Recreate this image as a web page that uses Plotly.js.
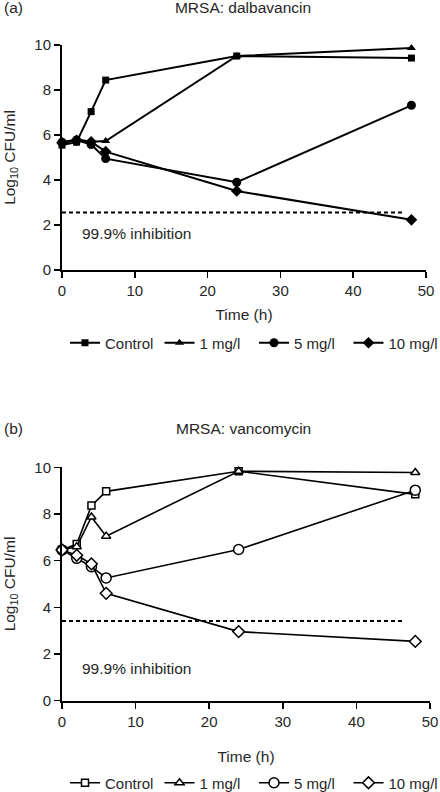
<!DOCTYPE html>
<html>
<head>
<meta charset="utf-8">
<script src="https://cdn.plot.ly/plotly-3.0.1.min.js"></script>
<style>
  html, body { margin: 0; padding: 0; background: #fff; }
  #chart { width: 440px; height: 792px; }
</style>
</head>
<body>
<div id="chart"></div>
<script>
// ---- data ----
const timeH = [0, 2, 4, 6, 24, 48];
const seriesNames = ["Control", "1 mg/l", "5 mg/l", "10 mg/l"];

// (a) MRSA: dalbavancin  (log10 CFU/ml)
const dalbaControl = [5.55, 5.68, 7.04, 8.44, 9.51, 9.42];
const dalba1 = [5.67, 5.81, 5.70, 5.73, 9.51, 9.87];
const dalba5 = [5.68, 5.78, 5.58, 4.95, 3.90, 7.32];
const dalba10 = [5.65, 5.76, 5.70, 5.26, 3.51, 2.23];

// (b) MRSA: vancomycin
const vancoControl = [6.46, 6.71, 8.36, 8.97, 9.83, 8.84];
const vanco1 = [6.46, 6.60, 7.87, 7.05, 9.83, 9.78];
const vanco5 = [6.46, 6.10, 5.74, 5.26, 6.48, 9.02];
const vanco10 = [6.46, 6.23, 5.86, 4.60, 2.96, 2.54];

// 99.9% inhibition reference lines
const dalbaThreshold = [2.56, 2.56];
const dalbaThresholdX = [0, 47];
const vancoThreshold = [3.42, 3.42];
const vancoThresholdX = [0, 46.3];

const xTicks = [0, 10, 20, 30, 40, 50];
const yTicks = [0, 2, 4, 6, 8, 10];

// ---- styles ----
const TXT = "#262626";
const FONT = "Liberation Sans, Arial, Helvetica, sans-serif";
const symbols = ["square", "triangle-up", "circle", "diamond"];
const topSizes = [7, 8, 9, 9];
const botSizes = [7, 8, 10, 9];

const topData = [dalbaControl, dalba1, dalba5, dalba10];
const botData = [vancoControl, vanco1, vanco5, vanco10];

const traces = [];
topData.forEach((ys, i) => {
  traces.push({
    x: timeH, y: ys, name: seriesNames[i], type: "scatter", mode: "lines+markers",
    xaxis: "x", yaxis: "y", legend: "legend", cliponaxis: false,
    line: {color: "#000", width: 2},
    marker: {symbol: symbols[i], size: topSizes[i], color: "#000", line: {color: "#000", width: 0}}
  });
});
traces.push({
  x: dalbaThresholdX, y: dalbaThreshold, type: "scatter", mode: "lines", showlegend: false,
  xaxis: "x", yaxis: "y", hoverinfo: "skip",
  line: {color: "#000", width: 2, dash: "4px,3px"}
});
botData.forEach((ys, i) => {
  traces.push({
    x: timeH, y: ys, name: seriesNames[i], type: "scatter", mode: "lines+markers",
    xaxis: "x2", yaxis: "y2", legend: "legend2", cliponaxis: false,
    line: {color: "#000", width: 1.6},
    marker: {symbol: symbols[i], size: botSizes[i], color: "#fff", line: {color: "#000", width: 1.5}}
  });
});
traces.push({
  x: vancoThresholdX, y: vancoThreshold, type: "scatter", mode: "lines", showlegend: false,
  xaxis: "x2", yaxis: "y2", hoverinfo: "skip",
  line: {color: "#000", width: 2, dash: "4px,3px"}
});

const H = 792, W = 440;
const py = p => 1 - p / H;
const px = p => p / W;

function xAxis(domain, anchor, standoff) {
  return {
    domain: domain, anchor: anchor, range: [0, 50], tickvals: xTicks, ticktext: xTicks.map(String),
    showline: true, linecolor: "#000", linewidth: 2, ticks: "outside", ticklen: 6, tickwidth: 1.5,
    tickcolor: "#000", showgrid: false, zeroline: false, fixedrange: true, automargin: false,
    tickfont: {family: FONT, size: 15, color: TXT},
    title: {text: "Time (h)", font: {family: FONT, size: 15.5, color: TXT}, standoff: standoff}
  };
}
function yAxis(domain, anchor) {
  return {
    domain: domain, anchor: anchor, range: [0, 10], tickvals: yTicks, ticktext: yTicks.map(String),
    showline: true, linecolor: "#000", linewidth: 2, ticks: "outside", ticklen: 6, tickwidth: 1.5,
    tickcolor: "#000", showgrid: false, zeroline: false, fixedrange: true, automargin: false,
    tickfont: {family: FONT, size: 15, color: TXT},
    title: {text: "Log<sub>10</sub> CFU/ml", font: {family: FONT, size: 15.5, color: TXT}, standoff: 15}
  };
}

function legendAt(yPix) {
  return {orientation: "h", x: px(65), xanchor: "left", y: py(yPix), yanchor: "middle",
          font: {family: FONT, size: 15, color: TXT}, entrywidth: 49.5, entrywidthmode: "pixels",
          itemwidth: 30, bgcolor: "rgba(0,0,0,0)", tracegroupgap: 0};
}

const layout = {
  width: W, height: H,
  margin: {l: 0, r: 0, t: 0, b: 0, autoexpand: false},
  paper_bgcolor: "#fff", plot_bgcolor: "#fff",
  font: {family: FONT, size: 15, color: TXT},
  showlegend: true,
  title: {text: "MRSA: dalbavancin", x: px(243), xref: "paper", xanchor: "center",
          y: py(8), yref: "paper", yanchor: "middle", font: {family: FONT, size: 15.5, color: TXT}},
  xaxis: xAxis([px(62), px(426)], "y", 11),
  yaxis: yAxis([py(270), py(45)], "x"),
  xaxis2: xAxis([px(62), px(430)], "y2", 22),
  yaxis2: yAxis([py(700.7), py(467.3)], "x2"),
  legend: legendAt(343),
  legend2: legendAt(783),
  annotations: [
    {text: "(a)", xref: "paper", yref: "paper", x: px(2), y: py(8), xanchor: "left", yanchor: "middle",
     showarrow: false, font: {family: FONT, size: 15.5, color: TXT}},
    {text: "(b)", xref: "paper", yref: "paper", x: px(2), y: py(428), xanchor: "left", yanchor: "middle",
     showarrow: false, font: {family: FONT, size: 15.5, color: TXT}},
    {text: "MRSA: vancomycin", xref: "paper", yref: "paper", x: px(243), y: py(428), xanchor: "center", yanchor: "middle",
     showarrow: false, font: {family: FONT, size: 15.5, color: TXT}},
    {text: "99.9% inhibition", xref: "x", yref: "y", x: 2.5, y: 1.62, xanchor: "left", yanchor: "middle",
     showarrow: false, font: {family: FONT, size: 15.5, color: TXT}},
    {text: "99.9% inhibition", xref: "x2", yref: "y2", x: 2.5, y: 1.40, xanchor: "left", yanchor: "middle",
     showarrow: false, font: {family: FONT, size: 15.5, color: TXT}}
  ]
};

Plotly.newPlot("chart", traces, layout, {staticPlot: true, displayModeBar: false});
</script>
</body>
</html>
